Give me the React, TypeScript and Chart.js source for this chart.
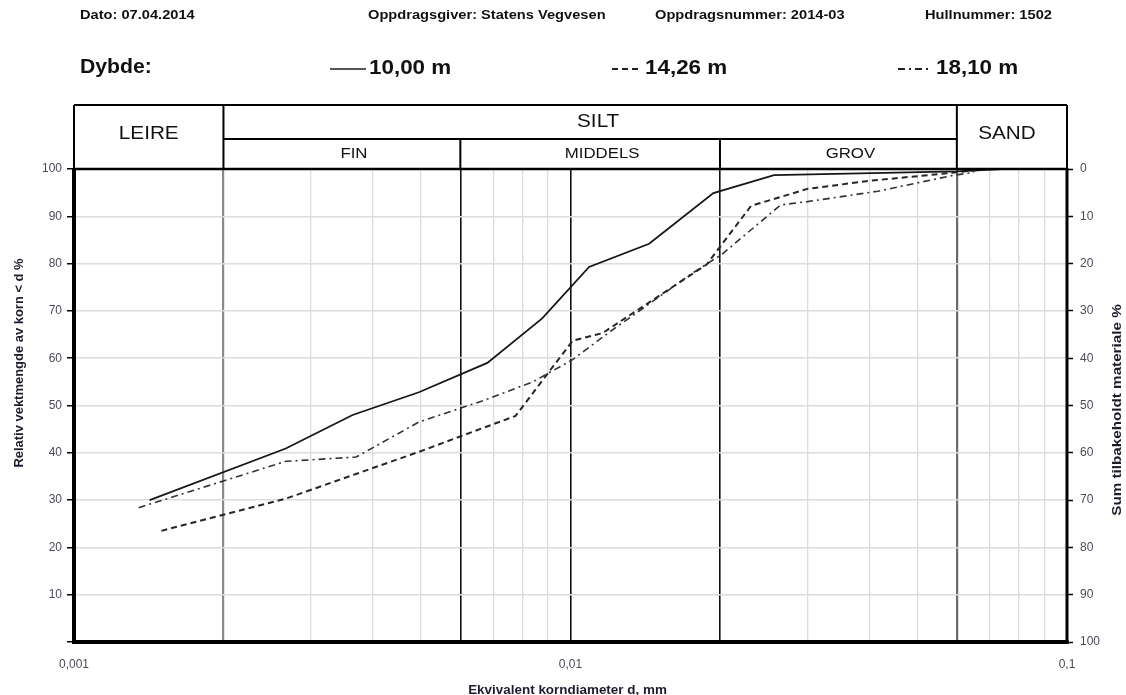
import React, { useEffect, useRef } from 'react';
import { Chart, registerables } from 'chart.js';

Chart.register(...registerables);

// ---------- data ----------
const SERIES_LABELS = ['10,00 m', '14,26 m', '18,10 m'];

const SOLID_D = [0.00142, 0.00267, 0.00364, 0.00495, 0.0068, 0.00877, 0.0109, 0.0144, 0.0194, 0.0257, 0.06, 0.074];
const SOLID_P = [30.0, 40.9, 48.0, 52.8, 59.0, 68.4, 79.3, 84.2, 94.9, 98.7, 99.5, 100];

const DASHED_D = [0.0015, 0.00267, 0.00495, 0.00775, 0.0101, 0.0116, 0.0188, 0.0231, 0.03, 0.04, 0.06, 0.066];
const DASHED_P = [23.5, 30.3, 40.2, 47.8, 63.7, 65.3, 79.8, 92.2, 95.8, 97.5, 99.3, 99.8];

const DASHDOT_D = [0.00135, 0.00267, 0.0037, 0.00495, 0.0067, 0.0084, 0.0101, 0.0119, 0.0175, 0.0202, 0.0265, 0.03, 0.0416, 0.0586, 0.065];
const DASHDOT_P = [28.4, 38.2, 39.1, 46.5, 51.1, 55.0, 59.7, 65.3, 77.8, 82.0, 92.4, 93.1, 95.3, 98.6, 99.3];

const X_TICKS = [
  0.001, 0.002, 0.003, 0.004, 0.005, 0.006, 0.007, 0.008, 0.009,
  0.01, 0.02, 0.03, 0.04, 0.05, 0.06, 0.07, 0.08, 0.09, 0.1,
];
const X_TICK_LABELS: Record<string, string> = { '0.001': '0,001', '0.01': '0,01', '0.1': '0,1' };

const HEADER_TEXTS = ['Dato: 07.04.2014', 'Oppdragsgiver: Statens Vegvesen', 'Oppdragsnummer: 2014-03', 'Hullnummer: 1502'];
const DEPTH_LABEL = 'Dybde:';

// fraction boundaries (mm)
const BOUNDARIES = [0.001, 0.002, 0.006, 0.02, 0.06, 0.1];
const MAIN_FRACTIONS = ['LEIRE', 'SILT', 'SAND'];
const SILT_SUB = ['FIN', 'MIDDELS', 'GROV'];

const Y_LEFT_TITLE = 'Relativ vektmengde av korn < d %';
const Y_RIGHT_TITLE = 'Sum tilbakeholdt materiale %';
const X_TITLE = 'Ekvivalent korndiameter d, mm';

const FONT = "'Liberation Sans', Arial, sans-serif";

const near = (a: number, b: number) => Math.abs(a - b) / b < 1e-6;

function txt(ctx: CanvasRenderingContext2D, text: string, x: number, y: number, font: string,
  align: CanvasTextAlign, sx: number, color: string, rot = 0) {
  ctx.save();
  ctx.translate(x, y);
  if (rot) ctx.rotate(rot);
  ctx.scale(sx, 1);
  ctx.font = font;
  ctx.fillStyle = color;
  ctx.textAlign = align;
  ctx.textBaseline = 'middle';
  ctx.fillText(text, 0, 0);
  ctx.restore();
}

function line(ctx: CanvasRenderingContext2D, x1: number, y1: number, x2: number, y2: number, w: number, color: string, dash: number[] = []) {
  ctx.save();
  ctx.beginPath();
  ctx.setLineDash(dash);
  ctx.lineWidth = w;
  ctx.strokeStyle = color;
  ctx.moveTo(x1, y1);
  ctx.lineTo(x2, y2);
  ctx.stroke();
  ctx.restore();
}

const overlay = {
  id: 'overlay',
  afterDraw(chart: any) {
    const ctx: CanvasRenderingContext2D = chart.ctx;
    const { left, right, top, bottom } = chart.chartArea;
    const xs = chart.scales.x;
    const bx = BOUNDARIES.map((b) => xs.getPixelForValue(b));

    // frame
    line(ctx, left, top, right, top, 2.5, '#000');
    line(ctx, left, top - 1, left, bottom + 2, 4, '#000');
    line(ctx, left - 2, bottom, right + 1.5, bottom, 4, '#000');
    line(ctx, right, top - 1, right, bottom + 2, 3, '#000');

    // classification table
    const tTop = top - 64;
    const tMid = top - 30;
    line(ctx, left, tTop, right, tTop, 2, '#000');
    line(ctx, left, tTop, left, top, 2, '#000');
    line(ctx, right, tTop, right, top, 2, '#000');
    line(ctx, bx[1], tTop, bx[1], top, 2, '#000');
    line(ctx, bx[4], tTop, bx[4], top, 2, '#000');
    line(ctx, bx[1], tMid, bx[4], tMid, 2, '#000');
    line(ctx, bx[2], tMid, bx[2], top, 2, '#000');
    line(ctx, bx[3], tMid, bx[3], top, 2, '#000');

    const big = `18px ${FONT}`;
    const small = `14px ${FONT}`;
    txt(ctx, MAIN_FRACTIONS[0], (bx[0] + bx[1]) / 2, (tTop + top) / 2 - 3, big, 'center', 1.15, '#111');
    txt(ctx, MAIN_FRACTIONS[1], (bx[1] + bx[4]) / 2 + 8, (tTop + tMid) / 2, big, 'center', 1.15, '#111');
    txt(ctx, MAIN_FRACTIONS[2], (bx[4] + bx[5]) / 2 - 5, (tTop + top) / 2 - 3, big, 'center', 1.15, '#111');
    for (let i = 0; i < 3; i++) {
      txt(ctx, SILT_SUB[i], (bx[i + 1] + bx[i + 2]) / 2 + 12, (tMid + top) / 2, small, 'center', 1.2, '#111');
    }

    // header
    const hFont = `bold 12px ${FONT}`;
    const hx = [80, 368, 655, 925];
    HEADER_TEXTS.forEach((t, i) => txt(ctx, t, hx[i], 16, hFont, 'left', 1.22, '#111'));

    // depth legend
    const lFont = `bold 20px ${FONT}`;
    const ly = 68;
    txt(ctx, DEPTH_LABEL, 80, ly - 1, lFont, 'left', 1.06, '#111');
    const sampleX = [[330, 366], [612, 642], [898, 932]];
    const textX = [369, 645, 936];
    chart.data.datasets.forEach((ds: any, i: number) => {
      line(ctx, sampleX[i][0], ly + 1, sampleX[i][1], ly + 1, 2, i === 0 ? '#555' : '#222', ds.borderDash || []);
      txt(ctx, SERIES_LABELS[i], textX[i], ly, lFont, 'left', 1.12, '#111');
    });

    // axis titles
    const aFont = `bold 12px ${FONT}`;
    txt(ctx, Y_LEFT_TITLE, 20, 363, aFont, 'center', 1.08, '#1c1c30', -Math.PI / 2);
    txt(ctx, Y_RIGHT_TITLE, 1117, 410, `bold 13px ${FONT}`, 'center', 1.17, '#1c1c30', -Math.PI / 2);
    txt(ctx, X_TITLE, (left + right) / 2 - 3, 691, aFont, 'center', 1.12, '#1c1c30');
  },
};

function xGridColor(v: number) {
  if (near(v, 0.002)) return '#8a8a8a';
  if (near(v, 0.06)) return '#6a6a6a';
  if (near(v, 0.006) || near(v, 0.01) || near(v, 0.02)) return '#111';
  return '#dcdcdc';
}
function xGridWidth(v: number) {
  if (near(v, 0.002) || near(v, 0.06)) return 2.2;
  if (near(v, 0.006) || near(v, 0.01) || near(v, 0.02)) return 1.6;
  return 1.3;
}

const zeroPad = (s: any) => {
  s.paddingTop = 0; s.paddingBottom = 0; s.paddingLeft = 0; s.paddingRight = 0;
};

export default function App() {
  const ref = useRef<HTMLCanvasElement | null>(null);
  useEffect(() => {
    if (!ref.current) return;
    const mk = (d: number[], p: number[]) => d.map((x, i) => ({ x, y: p[i] }));
    const chart = new Chart(ref.current, {
      type: 'line',
      data: {
        datasets: [
          { label: SERIES_LABELS[0], data: mk(SOLID_D, SOLID_P), borderColor: '#161616', borderWidth: 1.8, pointRadius: 0, tension: 0, borderDash: [] },
          { label: SERIES_LABELS[1], data: mk(DASHED_D, DASHED_P), borderColor: '#262626', borderWidth: 2, pointRadius: 0, tension: 0, borderDash: [6, 4] },
          { label: SERIES_LABELS[2], data: mk(DASHDOT_D, DASHDOT_P), borderColor: '#333', borderWidth: 1.6, pointRadius: 0, tension: 0, borderDash: [7, 4, 2, 4] },
        ],
      },
      options: {
        animation: false,
        responsive: false,
        devicePixelRatio: 1,
        layout: { padding: { top: 169, left: 0, right: 0, bottom: 0 } },
        plugins: { legend: { display: false }, tooltip: { enabled: false }, title: { display: false } },
        scales: {
          x: {
            type: 'logarithmic',
            min: 0.001,
            max: 0.1,
            afterBuildTicks: (s: any) => { s.ticks = X_TICKS.map((value) => ({ value })); },
            afterFit: (s: any) => { s.height = 53; zeroPad(s); },
            border: { display: false },
            grid: {
              drawTicks: false,
              color: (c: any) => xGridColor(c.tick ? c.tick.value : 0),
              lineWidth: (c: any) => xGridWidth(c.tick ? c.tick.value : 0),
            },
            ticks: {
              autoSkip: false,
              maxRotation: 0,
              padding: 15,
              color: '#4a4a5a',
              font: { family: FONT, size: 12 },
              callback: (v: any) => {
                const key = Object.keys(X_TICK_LABELS).find((k) => near(Number(v), Number(k)));
                return key ? X_TICK_LABELS[key] : '';
              },
            },
          },
          y: {
            type: 'linear',
            position: 'left',
            min: 0,
            max: 100,
            afterFit: (s: any) => { s.width = 74; zeroPad(s); },
            border: { display: false },
            grid: { color: '#dcdcdc', lineWidth: 1.5, tickColor: '#000', tickLength: 7, tickWidth: 1.5 },
            ticks: {
              stepSize: 10,
              padding: 5,
              color: '#4a4a5a',
              font: { family: FONT, size: 12 },
              callback: (v: any) => (Number(v) === 0 ? '' : String(v)),
            },
          },
          y2: {
            type: 'linear',
            position: 'right',
            min: 0,
            max: 100,
            reverse: true,
            afterFit: (s: any) => { s.width = 59; zeroPad(s); },
            border: { display: false },
            grid: { drawOnChartArea: false, tickColor: '#000', tickLength: 6, tickWidth: 1.5 },
            ticks: {
              stepSize: 10,
              padding: 7,
              color: '#4a4a5a',
              font: { family: FONT, size: 12 },
            },
          },
        },
      } as any,
      plugins: [overlay],
    });
    return () => chart.destroy();
  }, []);

  return (
    <div style={{ position: 'fixed', left: 0, top: 0, width: 1126, height: 695, background: '#fff' }}>
      <canvas ref={ref} width={1126} height={695} />
    </div>
  );
}
